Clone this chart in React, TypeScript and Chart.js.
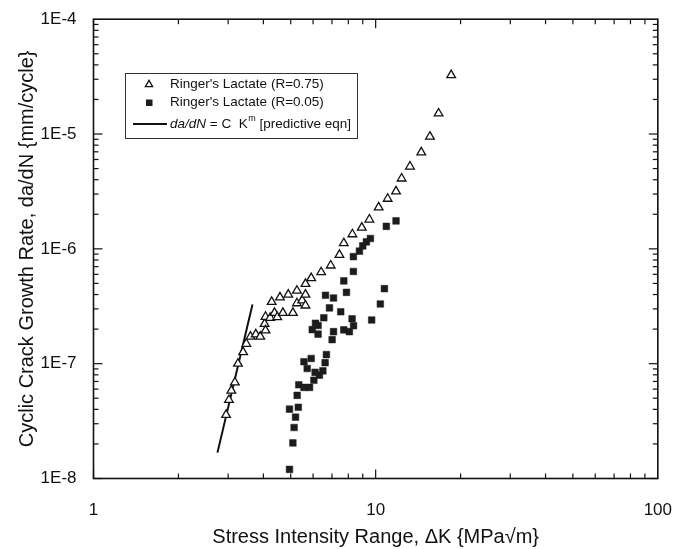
import React, { useEffect, useRef } from 'react';
import { Chart, registerables } from 'chart.js';

Chart.register(...registerables);

// ---- Data ----
const r075K = [
  2.95, 3.02, 3.08, 3.17, 3.25, 3.39, 3.48, 3.6, 3.76, 3.9, 4.04, 4.07, 4.07, 4.23, 4.28,
  4.38, 4.48, 4.58, 4.69, 4.9, 5.09, 5.26, 5.26, 5.49, 5.64, 5.64, 5.64, 5.91, 6.41, 6.93,
  7.44, 7.71, 8.27, 8.93, 9.5, 10.25, 11.03, 11.81, 12.36, 13.23, 14.51, 15.57, 16.71, 18.52,
];
const r075Rate = [
  3.58e-8, 4.83e-8, 5.82e-8, 6.86e-8, 1.0e-7, 1.26e-7, 1.49e-7, 1.72e-7, 1.8e-7, 1.72e-7,
  2.22e-7, 1.95e-7, 2.56e-7, 2.51e-7, 3.45e-7, 2.77e-7, 2.54e-7, 3.78e-7, 2.77e-7, 3.99e-7,
  2.77e-7, 4.32e-7, 3.36e-7, 3.56e-7, 4.95e-7, 3.99e-7, 3.21e-7, 5.56e-7, 6.26e-7, 7.16e-7,
  8.86e-7, 1.12e-6, 1.34e-6, 1.53e-6, 1.8e-6, 2.3e-6, 2.73e-6, 3.17e-6, 4.1e-6, 5.21e-6,
  6.93e-6, 9.48e-6, 1.51e-5, 3.26e-5,
];

const r005K = [
  4.95, 5.09, 5.14, 5.2, 4.95, 5.32, 5.27, 5.34, 5.57, 5.83, 6.04, 6.1, 6.32, 6.5, 5.72,
  5.57, 5.91, 6.62, 6.69, 7.01, 7.09, 6.25, 5.96, 6.25, 6.12, 6.55, 6.86, 7.52, 6.64, 7.09,
  7.88, 7.71, 8.34, 8.34, 8.76, 9.0, 9.27, 9.58, 8.25, 8.35, 7.71, 8.07, 9.68, 10.39, 10.74,
  10.91, 11.81,
];
const r005Rate = [
  1.2e-8, 2.04e-8, 2.78e-8, 3.42e-8, 4.02e-8, 4.17e-8, 5.3e-8, 6.55e-8, 6.21e-8, 6.21e-8,
  7.17e-8, 8.41e-8, 7.95e-8, 8.66e-8, 9.07e-8, 1.04e-7, 1.11e-7, 1.02e-7, 1.2e-7, 1.62e-7,
  1.9e-7, 1.81e-7, 1.98e-7, 2.15e-7, 2.25e-7, 2.51e-7, 3.06e-7, 2.83e-7, 3.94e-7, 3.73e-7,
  4.18e-7, 5.26e-7, 6.35e-7, 8.56e-7, 9.55e-7, 1.06e-6, 1.15e-6, 1.23e-6, 2.46e-7, 2.14e-7,
  1.97e-7, 1.9e-7, 2.4e-7, 3.31e-7, 4.5e-7, 1.57e-6, 1.75e-6,
];

const eqnK = [2.75, 3.66];
const eqnRate = [1.68e-8, 3.27e-7];

const xTickValues = [1, 10, 100];
const xTickLabels = ['1', '10', '100'];
const yTickValues = [1e-8, 1e-7, 1e-6, 1e-5, 1e-4];
const yTickLabels = ['1E-8', '1E-7', '1E-6', '1E-5', '1E-4'];

const seriesLabels = ["Ringer's Lactate (R=0.75)", "Ringer's Lactate (R=0.05)"];
const eqnLabelParts = ['da/dN', ' = C  K', 'm', ' [predictive eqn]'];
const xTitle = 'Stress Intensity Range, \u0394K {MPa\u221Am}';
const yTitle = 'Cyclic Crack Growth Rate, da/dN {mm/cycle}';

const FONT = '"Liberation Sans", Arial, Helvetica, sans-serif';
const INK = '#111111';

function triPath(ctx: CanvasRenderingContext2D, x: number, y: number, r: number) {
  const a = Math.PI * 2 / 3;
  ctx.beginPath();
  ctx.moveTo(x, y - r);
  ctx.lineTo(x + Math.sin(a) * r, y - Math.cos(a) * r);
  ctx.lineTo(x + Math.sin(2 * a) * r, y - Math.cos(2 * a) * r);
  ctx.closePath();
}

const frameTicks = {
  id: 'frameTicks',
  afterDatasetsDraw(chart: any) {
    const { ctx, chartArea, scales } = chart;
    const { left, right, top, bottom } = chartArea;
    const xs = scales.x;
    const ys = scales.y;
    ctx.save();
    ctx.strokeStyle = INK;
    ctx.lineWidth = 1.6;
    ctx.strokeRect(left, top, right - left, bottom - top);
    ctx.lineWidth = 1.2;
    const major = 9;
    const minor = 5;
    const seg = (x1: number, y1: number, x2: number, y2: number) => {
      ctx.beginPath();
      ctx.moveTo(x1, y1);
      ctx.lineTo(x2, y2);
      ctx.stroke();
    };
    for (let e = 0; e <= 1; e++) {
      const d = Math.pow(10, e);
      for (let k = 1; k <= 9; k++) {
        const px = xs.getPixelForValue(k * d);
        const L = k === 1 ? major : minor;
        seg(px, bottom, px, bottom - L);
        seg(px, top, px, top + L);
      }
    }
    for (let e = -8; e <= -5; e++) {
      const d = Math.pow(10, e);
      for (let k = 1; k <= 9; k++) {
        const py = ys.getPixelForValue(k * d);
        const L = k === 1 ? major : minor;
        seg(left, py, left + L, py);
        seg(right, py, right - L, py);
      }
    }
    ctx.restore();
  },
};

const customLegend = {
  id: 'customLegend',
  afterDraw(chart: any) {
    const ctx: CanvasRenderingContext2D = chart.ctx;
    ctx.save();
    ctx.strokeStyle = '#333';
    ctx.lineWidth = 1;
    ctx.strokeRect(125.5, 73.5, 232, 65);
    ctx.font = '13.5px ' + FONT;
    ctx.textBaseline = 'middle';
    ctx.fillStyle = INK;
    // row 1: hollow triangle
    triPath(ctx, 149, 84.5, 4.2);
    ctx.fillStyle = '#fff';
    ctx.fill();
    ctx.strokeStyle = INK;
    ctx.lineWidth = 1.3;
    ctx.stroke();
    ctx.fillStyle = INK;
    ctx.fillText(seriesLabels[0], 170, 84);
    // row 2: filled square
    ctx.fillStyle = '#1c1c1c';
    ctx.fillRect(146, 99.5, 6.5, 6.5);
    ctx.fillStyle = INK;
    ctx.fillText(seriesLabels[1], 170, 102.5);
    // row 3: line + equation
    ctx.lineWidth = 2;
    ctx.beginPath();
    ctx.moveTo(133, 124);
    ctx.lineTo(167, 124);
    ctx.stroke();
    let x = 170;
    const y = 124;
    ctx.font = 'italic 13.5px ' + FONT;
    ctx.fillText(eqnLabelParts[0], x, y);
    x += ctx.measureText(eqnLabelParts[0]).width;
    ctx.font = '13.5px ' + FONT;
    ctx.fillText(eqnLabelParts[1], x, y);
    x += ctx.measureText(eqnLabelParts[1]).width;
    ctx.font = '9px ' + FONT;
    ctx.fillText(eqnLabelParts[2], x + 0.5, y - 5);
    x += ctx.measureText(eqnLabelParts[2]).width + 0.5;
    ctx.font = '13.5px ' + FONT;
    ctx.fillText(eqnLabelParts[3], x, y);
    ctx.restore();
  },
};

export default function App() {
  const canvasRef = useRef<HTMLCanvasElement | null>(null);

  useEffect(() => {
    if (!canvasRef.current) return;
    const triPts = r075K.map((k, i) => ({ x: k, y: r075Rate[i] }));
    const sqPts = r005K.map((k, i) => ({ x: k, y: r005Rate[i] }));
    const eqnPts = eqnK.map((k, i) => ({ x: k, y: eqnRate[i] }));

    const chart = new Chart(canvasRef.current, {
      type: 'scatter',
      data: {
        datasets: [
          {
            label: seriesLabels[0],
            data: triPts,
            pointStyle: 'triangle',
            pointRadius: 5,
            pointBackgroundColor: '#ffffff',
            pointBorderColor: INK,
            pointBorderWidth: 1.3,
            showLine: false,
          },
          {
            label: seriesLabels[1],
            data: sqPts,
            pointStyle: 'rect',
            pointRadius: 4.7,
            pointBackgroundColor: '#1c1c1c',
            pointBorderColor: '#1c1c1c',
            pointBorderWidth: 0.5,
            showLine: false,
          },
          {
            label: eqnLabelParts.join(''),
            data: eqnPts,
            showLine: true,
            borderColor: INK,
            borderWidth: 2,
            pointRadius: 0,
            fill: false,
          },
        ],
      },
      options: {
        responsive: false,
        animation: false,
        events: [],
        layout: { padding: { left: 0, right: 27, top: 16, bottom: 0 } },
        plugins: {
          legend: { display: false },
          tooltip: { enabled: false },
          title: { display: false },
        },
        scales: {
          x: {
            type: 'logarithmic',
            min: 1,
            max: 100,
            grid: { display: false },
            border: { display: false },
            afterBuildTicks: (scale: any) => {
              scale.ticks = xTickValues.map((v) => ({ value: v }));
            },
            afterFit: (scale: any) => {
              scale.height = 70.5;
            },
            ticks: {
              autoSkip: false,
              maxRotation: 0,
              padding: 14,
              color: INK,
              font: { family: FONT, size: 17 },
              callback: (_v: any, i: number) => xTickLabels[i],
            },
            title: {
              display: true,
              text: xTitle,
              color: INK,
              font: { family: FONT, size: 20 },
              padding: { top: 0, bottom: 0 },
            },
          },
          y: {
            type: 'logarithmic',
            min: 1e-8,
            max: 1e-4,
            grid: { display: false },
            border: { display: false },
            afterBuildTicks: (scale: any) => {
              scale.ticks = yTickValues.map((v) => ({ value: v }));
            },
            afterFit: (scale: any) => {
              scale.width = 93.5;
            },
            ticks: {
              autoSkip: false,
              padding: 9,
              color: INK,
              font: { family: FONT, size: 17 },
              callback: (_v: any, i: number) => yTickLabels[i],
            },
            title: {
              display: true,
              text: yTitle,
              color: INK,
              font: { family: FONT, size: 20 },
              padding: { top: 15.5, bottom: 0 },
            },
          },
        },
      },
      plugins: [frameTicks, customLegend],
    });
    return () => chart.destroy();
  }, []);

  return (
    <div style={{ position: 'fixed', left: 0, top: 0, width: 686, height: 549, background: '#fff' }}>
      <canvas ref={canvasRef} width={686} height={549} style={{ display: 'block' }} />
    </div>
  );
}
